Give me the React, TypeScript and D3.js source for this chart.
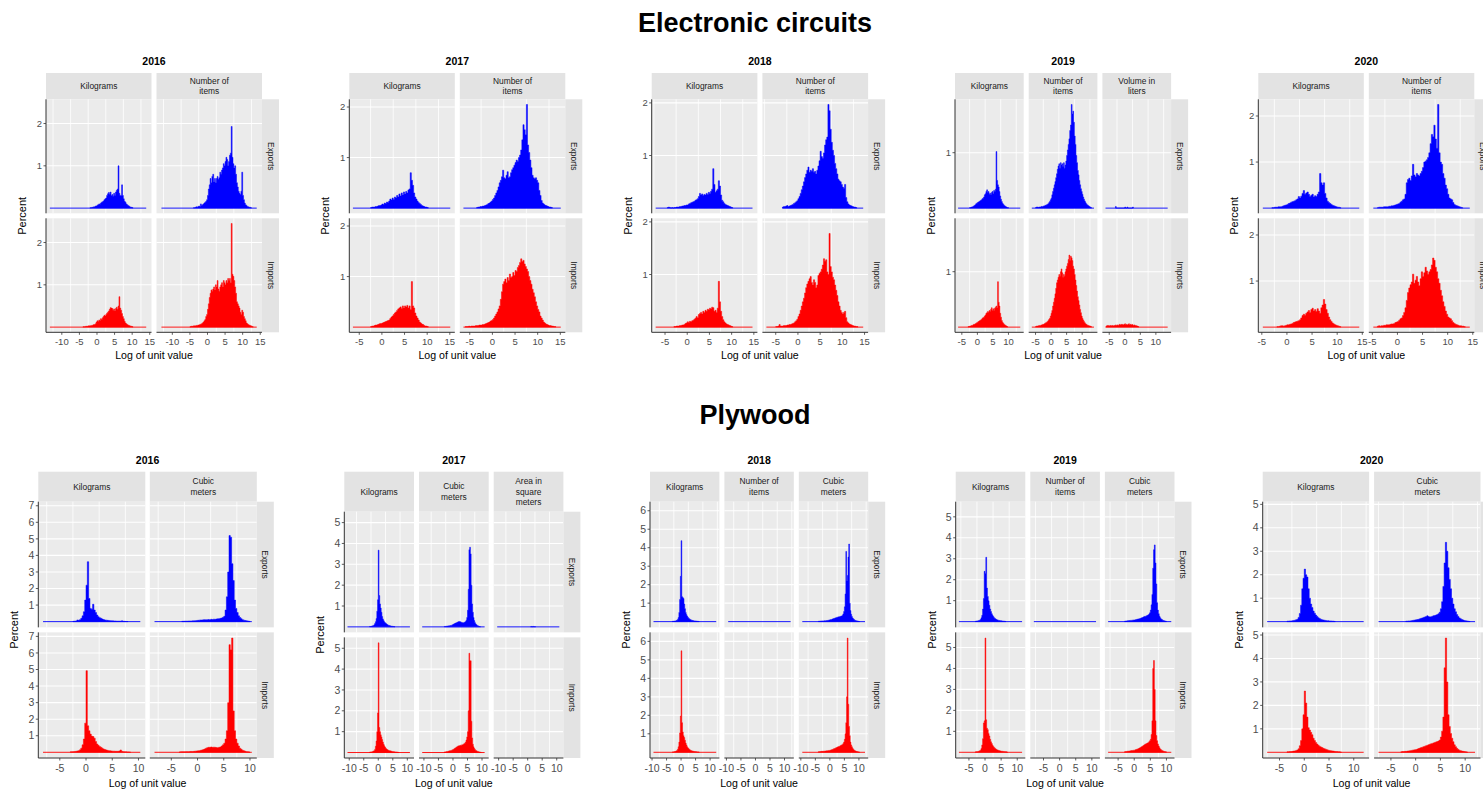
import React from 'react';
import * as d3 from 'd3';

// Histogram of log unit values: lo/hi = data range (drawn as the zero line),
// start = left edge of the first bin, h = percent per bin (bin width BIN).
type Hist = { lo: number; hi: number; start: number; h: number[] };

const BIN = 0.25;

// ---------- Electronic circuits ----------
const ec16ExpKg: Hist = { lo: -13.4, hi: 14, start: -2, h: [0.01,0.01,0.02,0.02,0.03,0.03,0.05,0.05, 0.07,0.08,0.1,0.09,0.12,0.14,0.15,0.17, 0.2,0.22,0.24,0.3,0.34,0.37,0.33,0.38, 0.3,0.32,0.28,0.35,0.3,0.38,0.42,0.45, 1.0,0.35,0.3,0.3,0.55,0.3,0.22,0.16, 0.14,0.1,0.08,0.06,0.05,0.03,0.02,0.02,0.01] };
const ec16ExpNum: Hist = { lo: -13.1, hi: 14, start: -4, h: [0.01,0.01,0.02,0.03,0.02,0.04,0.05,0.04, 0.1,0.06,0.08,0.1,0.12,0.14,0.16,0.2, 0.3,0.45,0.55,0.7,0.6,0.75,0.8,0.62, 0.7,0.6,0.7,0.75,0.68,0.72,0.85,0.8, 0.9,0.95,1.05,1.0,1.1,1.2,1.15,1.0, 1.1,1.25,1.3,1.93,1.2,1.05,0.95,1.0, 0.8,0.6,0.5,0.4,0.35,0.32,0.4,0.85, 0.3,0.2,0.12,0.08,0.06,0.04,0.03,0.02,0.02,0.01] };
const ec16ImpKg: Hist = { lo: -13.4, hi: 14, start: -4, h: [0.01,0.01,0.01,0.02,0.02,0.02,0.03,0.03, 0.03,0.04,0.04,0.05,0.06,0.06,0.08,0.12, 0.15,0.13,0.17,0.15,0.2,0.18,0.22,0.25, 0.28,0.26,0.3,0.33,0.35,0.38,0.42,0.46, 0.45,0.44,0.4,0.43,0.38,0.44,0.47,0.42, 0.5,0.72,0.45,0.4,0.32,0.25,0.2,0.14, 0.1,0.08,0.06,0.05,0.04,0.03,0.02,0.02,0.01] };
const ec16ImpNum: Hist = { lo: -13.1, hi: 14, start: -5, h: [0.01,0.02,0.02,0.02,0.03,0.03,0.03,0.04, 0.04,0.05,0.05,0.06,0.07,0.08,0.1,0.12, 0.15,0.18,0.25,0.3,0.42,0.55,0.7,0.8, 0.88,0.85,0.9,0.95,0.88,1.0,0.95,1.1, 0.9,0.85,0.95,1.0,1.05,0.95,1.1,1.05, 1.0,1.1,1.05,1.15,1.1,1.15,1.05,2.45, 1.25,1.2,1.1,0.95,0.8,0.6,0.55,0.5, 0.45,0.35,0.3,0.4,0.35,0.25,0.2,0.15, 0.1,0.08,0.06,0.05,0.04,0.03,0.02,0.01] };

const ec17ExpKg: Hist = { lo: -6.4, hi: 15.1, start: -2.5, h: [0.01,0.02,0.02,0.02,0.03,0.03,0.04,0.05, 0.05,0.06,0.08,0.07,0.1,0.09,0.12,0.11, 0.14,0.18,0.16,0.2,0.17,0.22,0.2,0.25, 0.22,0.28,0.24,0.3,0.26,0.32,0.28,0.33, 0.3,0.36,0.38,0.7,0.55,0.45,0.3,0.22, 0.18,0.14,0.11,0.09,0.07,0.05,0.04,0.03,0.02,0.02,0.01] };
const ec17ExpNum: Hist = { lo: -6.4, hi: 15.1, start: -3.5, h: [0.01,0.02,0.02,0.03,0.03,0.04,0.04,0.05, 0.06,0.07,0.09,0.1,0.12,0.14,0.17,0.2, 0.25,0.3,0.35,0.42,0.5,0.55,0.62,0.75, 0.6,0.58,0.65,0.72,0.6,0.62,0.7,0.76, 0.8,0.85,0.9,0.95,0.92,1.0,1.05,1.15, 1.35,1.65,1.55,1.45,2.05,1.25,1.1,0.95, 0.8,0.65,0.6,0.58,0.6,0.55,0.5,0.35, 0.25,0.15,0.1,0.08,0.06,0.05,0.04,0.03,0.02,0.02,0.01] };
const ec17ImpKg: Hist = { lo: -6.4, hi: 15.1, start: -2.5, h: [0.01,0.02,0.02,0.03,0.04,0.04,0.05,0.06, 0.07,0.07,0.08,0.09,0.1,0.11,0.12,0.13, 0.14,0.17,0.2,0.22,0.25,0.28,0.3,0.33, 0.36,0.38,0.4,0.37,0.42,0.38,0.42,0.4, 0.43,0.38,0.42,0.35,0.9,0.42,0.38,0.28, 0.22,0.18,0.14,0.1,0.08,0.06,0.05,0.03,0.02,0.02,0.01] };
const ec17ImpNum: Hist = { lo: -6.4, hi: 15.1, start: -6, h: [0.01,0.01,0.01,0.02,0.01,0.02,0.02,0.02, 0.02,0.03,0.03,0.03,0.04,0.04,0.04,0.05, 0.05,0.06,0.07,0.08,0.09,0.1,0.12,0.13, 0.15,0.18,0.22,0.26,0.3,0.36,0.42,0.55, 0.7,0.85,0.9,0.95,0.88,0.98,0.92,1.05, 0.98,1.0,1.08,1.02,1.12,1.1,1.18,1.22, 1.28,1.35,1.3,1.32,1.25,1.2,1.15,1.1, 1.0,0.92,0.85,0.75,0.68,0.6,0.5,0.42, 0.35,0.3,0.22,0.18,0.14,0.1,0.08,0.06, 0.05,0.04,0.03,0.03,0.02,0.02,0.01,0.01] };

const ec18ExpKg: Hist = { lo: -7.1, hi: 14.7, start: -4.5, h: [0.01,0.02,0.01,0,0.01,0,0.01,0.01, 0.02,0.02,0.02,0.03,0.03,0.04,0.04,0.05, 0.05,0.06,0.06,0.08,0.09,0.1,0.11,0.12, 0.13,0.15,0.16,0.18,0.22,0.28,0.25,0.27, 0.24,0.26,0.25,0.28,0.26,0.3,0.28,0.32, 0.36,0.75,0.45,0.3,0.33,0.36,0.52,0.42, 0.25,0.15,0.12,0.09,0.07,0.06,0.05,0.04,0.03,0.02,0.01] };
const ec18ExpNum: Hist = { lo: -3.5, hi: 14.7, start: -3.5, h: [0.02,0.03,0.03,0.04,0.05,0.03,0.04,0.05, 0.06,0.07,0.09,0.1,0.12,0.14,0.18,0.22, 0.28,0.35,0.42,0.5,0.58,0.65,0.72,0.78, 0.68,0.72,0.7,0.75,0.68,0.7,0.65,0.72, 0.8,0.9,1.08,0.98,0.95,1.05,1.2,1.3, 1.35,1.97,1.85,1.5,1.25,1.1,1.0,0.85, 0.75,0.65,0.55,0.52,0.5,0.45,0.4,0.38, 0.45,0.2,0.12,0.08,0.06,0.05,0.04,0.03,0.02,0.02,0.01] };
const ec18ImpKg: Hist = { lo: -7.1, hi: 14.7, start: -3, h: [0.01,0.01,0.02,0.02,0.02,0.03,0.03,0.04, 0.04,0.05,0.07,0.08,0.1,0.09,0.11,0.1, 0.12,0.13,0.15,0.17,0.2,0.18,0.24,0.26, 0.28,0.25,0.3,0.28,0.32,0.3,0.34,0.33, 0.36,0.35,0.38,0.37,0.3,0.32,0.28,0.36, 0.87,0.48,0.3,0.2,0.14,0.1,0.08,0.06, 0.05,0.04,0.03,0.02,0.01] };
const ec18ImpNum: Hist = { lo: -7.1, hi: 14.7, start: -5, h: [0.01,0.01,0.02,0.05,0.02,0.02,0.02,0.03, 0.03,0.03,0.04,0.04,0.05,0.05,0.06,0.07, 0.08,0.1,0.12,0.15,0.2,0.25,0.32,0.4, 0.48,0.55,0.65,0.75,0.82,0.87,0.92,0.96, 0.85,0.8,0.9,0.85,0.75,0.8,0.98,1.02, 1.05,1.1,1.18,1.3,1.25,1.28,1.05,1.0, 1.78,1.15,1.05,0.95,0.9,0.8,0.7,0.6, 0.48,0.4,0.32,0.28,0.25,0.28,0.3,0.18, 0.1,0.08,0.06,0.05,0.04,0.03,0.02,0.02,0.01,0.01] };

const ec19ExpKg: Hist = { lo: -6.2, hi: 13.8, start: -2.5, h: [0.01,0.01,0.02,0.02,0.03,0.04,0.05,0.06, 0.08,0.09,0.1,0.11,0.12,0.13,0.14,0.15, 0.17,0.18,0.2,0.24,0.26,0.3,0.33,0.28, 0.3,0.25,0.27,0.24,0.28,0.3,0.26,0.32, 0.3,0.34,1.02,0.5,0.42,0.38,0.3,0.22, 0.16,0.12,0.09,0.07,0.05,0.04,0.03,0.02,0.01,0.01] };
const ec19ExpNum: Hist = { lo: -6.2, hi: 13.8, start: -5, h: [0.01,0.02,0.02,0.01,0.02,0.02,0.02,0.03, 0.03,0.03,0.04,0.04,0.05,0.05,0.06,0.07, 0.08,0.1,0.12,0.15,0.18,0.24,0.3,0.36, 0.42,0.48,0.55,0.62,0.7,0.76,0.8,0.72, 0.82,0.78,0.8,0.75,0.82,0.72,0.78,0.85, 0.95,1.05,1.15,1.25,1.4,1.5,1.87,1.7, 1.75,1.55,1.3,1.15,0.95,0.82,0.68,0.6, 0.5,0.42,0.35,0.3,0.25,0.2,0.16,0.13, 0.1,0.08,0.06,0.05,0.04,0.03,0.02,0.01] };
const ec19ExpVol: Hist = { lo: -6.2, hi: 13.8, start: -3, h: [0.03,0,0,0,0,0,0,0,0,0,0,0,0.02,0,0,0.02,0,0,0,0,0,0,0.02] };
const ec19ImpKg: Hist = { lo: -6.2, hi: 13.8, start: -3, h: [0.01,0.01,0.02,0.02,0.03,0.03,0.04,0.05, 0.05,0.06,0.07,0.08,0.09,0.1,0.11,0.12, 0.13,0.14,0.16,0.17,0.18,0.2,0.22,0.25, 0.26,0.28,0.27,0.3,0.28,0.32,0.35,0.3, 0.33,0.3,0.34,0.36,0.38,0.35,0.82,0.45, 0.38,0.25,0.18,0.12,0.09,0.07,0.05,0.04,0.03,0.02,0.01] };
const ec19ImpNum: Hist = { lo: -6.2, hi: 13.8, start: -5, h: [0.01,0.02,0.02,0.02,0.03,0.03,0.03,0.04, 0.04,0.05,0.05,0.06,0.07,0.08,0.09,0.1, 0.12,0.14,0.16,0.2,0.25,0.3,0.38,0.45, 0.52,0.6,0.7,0.8,0.85,0.9,0.95,0.92, 1.0,1.05,0.98,0.9,0.95,0.92,1.0,1.05, 1.1,1.15,1.22,1.3,1.2,1.28,1.25,1.2, 1.1,1.05,0.95,0.85,0.75,0.65,0.55,0.48, 0.4,0.32,0.26,0.2,0.16,0.13,0.1,0.08, 0.06,0.05,0.04,0.03,0.03,0.02,0.02,0.01] };
const ec19ImpVol: Hist = { lo: -6.2, hi: 13.8, start: -6, h: [0.02,0.03,0.02,0.03,0.02,0.03,0.02,0.03, 0.03,0.02,0.03,0.03,0.04,0.03,0.04,0.03, 0.04,0.05,0.04,0.05,0.04,0.05,0.04,0.05, 0.06,0.04,0.05,0.04,0.05,0.06,0.04,0.05, 0.04,0.05,0.04,0.03,0.04,0.03,0.03,0.02,0.02,0.01] };

const ec20ExpKg: Hist = { lo: -4.8, hi: 14.4, start: -3, h: [0.01,0.01,0.02,0.02,0.02,0.03,0.03,0.03, 0.04,0.05,0.06,0.07,0.08,0.1,0.11,0.13, 0.14,0.15,0.16,0.18,0.2,0.25,0.22,0.26, 0.32,0.38,0.3,0.33,0.35,0.3,0.25,0.28, 0.3,0.24,0.27,0.25,0.3,0.35,0.75,0.55, 0.5,0.55,0.32,0.22,0.15,0.12,0.1,0.08, 0.06,0.05,0.04,0.03,0.02,0.02,0.01] };
const ec20ExpNum: Hist = { lo: -4.8, hi: 14.4, start: -4, h: [0.01,0.02,0.02,0.02,0.02,0.03,0.03,0.03, 0.03,0.04,0.04,0.05,0.05,0.06,0.07,0.08, 0.09,0.1,0.13,0.15,0.18,0.2,0.3,0.55, 0.62,0.65,0.6,0.7,0.95,0.72,0.68,0.75, 0.72,0.7,0.75,0.8,0.88,1.0,1.02,1.05, 1.1,1.2,1.4,1.6,1.55,1.8,1.5,1.3, 2.25,1.2,1.0,0.95,0.75,0.65,0.5,0.42, 0.3,0.22,0.2,0.18,0.12,0.08,0.06,0.05, 0.04,0.03,0.02,0.01] };
const ec20ImpKg: Hist = { lo: -4.8, hi: 14.4, start: -2, h: [0.01,0.01,0.02,0.03,0.03,0.02,0.03,0.04, 0.05,0.05,0.06,0.07,0.08,0.1,0.11,0.12, 0.13,0.14,0.16,0.2,0.25,0.28,0.26,0.3, 0.33,0.36,0.32,0.38,0.41,0.35,0.38,0.34, 0.4,0.35,0.3,0.42,0.48,0.6,0.5,0.38, 0.3,0.22,0.16,0.12,0.09,0.07,0.05,0.04,0.03,0.02,0.01] };
const ec20ImpNum: Hist = { lo: -4.8, hi: 14.4, start: -4, h: [0.02,0.03,0.02,0.03,0.03,0.04,0.04,0.05, 0.05,0.05,0.06,0.07,0.07,0.08,0.1,0.11, 0.12,0.15,0.18,0.2,0.25,0.32,0.42,0.58, 0.75,0.85,0.92,0.98,1.15,0.95,1.02,1.1, 0.98,0.9,1.05,1.2,1.1,1.18,1.3,1.22, 1.15,1.2,1.25,1.35,1.5,1.45,1.3,1.2, 1.05,0.95,0.8,0.68,0.55,0.45,0.35,0.28, 0.22,0.2,0.18,0.14,0.1,0.08,0.06,0.05, 0.04,0.03,0.03,0.02,0.02,0.01] };

// ---------- Plywood ----------
const p16ExpKg: Hist = { lo: -8.2, hi: 10.35, start: -2.5, h: [0.02,0.03,0.04,0.1,0.08,0.12,0.2,0.35, 0.6,1.3,2.2,3.62,1.4,0.8,0.75,1.05, 0.7,0.55,0.4,0.3,0.24,0.2,0.16,0.13, 0.1,0.09,0.08,0.07,0.06,0.05,0.05,0.04, 0.04,0.03,0.03,0.03,0.03,0.05,0.02,0.02,0.01,0.01] };
const p16ExpCub: Hist = { lo: -8.2, hi: 10.35, start: -3, h: [0.02,0.02,0.03,0.03,0.03,0.04,0.04,0.04, 0.05,0.05,0.06,0.07,0.08,0.09,0.1,0.1, 0.11,0.12,0.11,0.12,0.13,0.12,0.14,0.13, 0.15,0.14,0.16,0.17,0.18,0.2,0.22,0.26, 0.32,0.7,1.5,3.0,5.2,5.1,3.5,2.48, 1.3,0.8,0.55,0.35,0.25,0.18,0.12,0.09, 0.07,0.05,0.04,0.02] };
const p16ImpKg: Hist = { lo: -8.2, hi: 10.35, start: -3, h: [0.03,0.03,0.04,0.05,0.06,0.08,0.1,0.15, 0.25,0.45,0.8,1.76,4.93,1.6,1.3,1.1, 0.98,0.95,0.85,0.65,0.5,0.42,0.35,0.3, 0.25,0.2,0.17,0.14,0.12,0.1,0.09,0.08, 0.07,0.07,0.06,0.06,0.06,0.08,0.14,0.06, 0.04,0.03,0.03,0.02,0.02,0.01] };
const p16ImpCub: Hist = { lo: -8.2, hi: 10.35, start: -3.5, h: [0.02,0.03,0.03,0.03,0.03,0.04,0.04,0.04, 0.05,0.05,0.05,0.06,0.07,0.08,0.09,0.1, 0.12,0.14,0.17,0.2,0.24,0.28,0.3,0.3, 0.32,0.3,0.31,0.3,0.29,0.28,0.3,0.32, 0.38,0.45,0.55,0.8,1.3,3.0,6.5,6.2, 6.9,2.5,1.3,0.8,0.55,0.38,0.25,0.18, 0.12,0.09,0.06,0.04,0.03,0.02] };

const p17ExpKg: Hist = { lo: -10.6, hi: 10.9, start: -3, h: [0.02,0.02,0.03,0.04,0.05,0.06,0.1,0.16, 0.25,0.4,0.75,1.3,3.68,1.5,1.1,0.9, 0.7,0.5,0.38,0.3,0.24,0.2,0.17,0.14, 0.11,0.09,0.07,0.06,0.05,0.04,0.03,0.03,0.02,0.02,0.01] };
const p17ExpCub: Hist = { lo: -10.6, hi: 10.9, start: -3, h: [0.02,0.02,0.03,0.03,0.04,0.04,0.05,0.05, 0.06,0.07,0.08,0.1,0.12,0.14,0.16,0.18, 0.19,0.21,0.23,0.24,0.26,0.25,0.24,0.22, 0.21,0.2,0.2,0.21,0.23,0.26,0.32,0.45, 0.8,1.8,3.7,3.82,3.5,2.0,1.1,0.7, 0.45,0.3,0.2,0.14,0.1,0.07,0.05,0.03,0.02,0.01] };
const p17ExpArea: Hist = { lo: -10.5, hi: 10.9, start: 1, h: [0.01,0.02,0.01,0.02,0.02,0.01,0.01] };
const p17ImpKg: Hist = { lo: -10.6, hi: 10.9, start: -3, h: [0.02,0.03,0.03,0.04,0.05,0.07,0.09,0.15, 0.3,0.55,1.0,1.9,5.26,1.2,1.0,0.85, 0.75,0.62,0.5,0.4,0.32,0.26,0.2,0.17, 0.14,0.12,0.1,0.09,0.08,0.07,0.06,0.05, 0.05,0.04,0.04,0.03,0.03,0.02,0.02,0.01] };
const p17ImpCub: Hist = { lo: -10.6, hi: 10.9, start: -3, h: [0.03,0.03,0.04,0.05,0.05,0.06,0.07,0.08, 0.09,0.1,0.11,0.13,0.15,0.17,0.2,0.22, 0.25,0.27,0.3,0.31,0.33,0.32,0.35,0.34, 0.37,0.36,0.4,0.42,0.45,0.5,0.6,0.75, 1.0,2.0,4.76,4.4,4.4,1.5,0.7,0.4, 0.28,0.2,0.14,0.1,0.08,0.06,0.05,0.04,0.03,0.02,0.01] };

const p18ExpKg: Hist = { lo: -9.5, hi: 12.1, start: -3, h: [0.02,0.02,0.03,0.03,0.04,0.06,0.08,0.12, 0.22,0.5,1.2,2.45,4.38,1.35,1.3,1.25, 0.95,0.7,0.5,0.38,0.3,0.24,0.19,0.15, 0.12,0.1,0.08,0.07,0.06,0.05,0.04,0.04, 0.03,0.03,0.02,0.02,0.01] };
const p18ExpNum: Hist = { lo: -9.4, hi: 12.1, start: 0, h: [] };
const p18ExpCub: Hist = { lo: -9.5, hi: 12.1, start: -4, h: [0.02,0.02,0.03,0.03,0.03,0.04,0.04,0.04, 0.05,0.05,0.05,0.06,0.06,0.07,0.08,0.09, 0.1,0.11,0.12,0.14,0.15,0.17,0.18,0.2, 0.21,0.23,0.24,0.25,0.26,0.27,0.28,0.3, 0.3,0.35,0.42,0.55,0.8,1.5,3.8,2.2, 2.5,3.5,4.2,1.0,0.6,0.4,0.28,0.2, 0.15,0.11,0.08,0.06,0.05,0.04,0.03,0.02,0.01] };
const p18ImpKg: Hist = { lo: -9.5, hi: 12.1, start: -3, h: [0.02,0.02,0.03,0.04,0.05,0.07,0.1,0.16, 0.3,0.55,1.05,1.96,5.49,1.6,1.1,0.9, 0.8,0.65,0.5,0.4,0.3,0.24,0.2,0.16, 0.13,0.1,0.09,0.07,0.06,0.05,0.04,0.04, 0.03,0.03,0.02,0.02,0.01] };
const p18ImpCub: Hist = { lo: -9.5, hi: 12.1, start: -4, h: [0.03,0.03,0.04,0.04,0.05,0.05,0.05,0.06, 0.06,0.07,0.07,0.08,0.08,0.09,0.1,0.1, 0.11,0.12,0.14,0.15,0.17,0.19,0.2,0.22, 0.24,0.26,0.28,0.3,0.31,0.33,0.35,0.38, 0.4,0.42,0.48,0.55,0.7,1.0,1.6,3.0, 6.18,2.6,1.4,0.9,0.55,0.4,0.3,0.22, 0.16,0.12,0.09,0.07,0.05,0.04,0.03,0.02,0.01] };

const p19ExpKg: Hist = { lo: -8.1, hi: 11.5, start: -3, h: [0.02,0.03,0.03,0.04,0.05,0.07,0.1,0.18, 0.3,0.6,1.1,2.4,2.3,3.07,1.6,1.2, 1.0,0.78,0.6,0.48,0.38,0.3,0.24,0.19, 0.15,0.12,0.1,0.08,0.07,0.06,0.05,0.04, 0.04,0.03,0.03,0.02,0.02,0.01] };
const p19ExpNum: Hist = { lo: -8.0, hi: 11.3, start: 0, h: [] };
const p19ExpCub: Hist = { lo: -8.1, hi: 11.5, start: -3, h: [0.02,0.03,0.03,0.04,0.04,0.05,0.05,0.06, 0.06,0.07,0.07,0.08,0.08,0.09,0.1,0.11, 0.12,0.13,0.14,0.15,0.17,0.18,0.2,0.22, 0.24,0.25,0.26,0.28,0.3,0.32,0.36,0.42, 0.55,0.8,1.3,2.55,3.43,3.66,2.8,1.8, 0.9,0.55,0.38,0.26,0.18,0.13,0.1,0.07, 0.05,0.04,0.03,0.02] };
const p19ImpKg: Hist = { lo: -8.1, hi: 11.5, start: -3, h: [0.02,0.03,0.03,0.04,0.05,0.07,0.1,0.18, 0.35,0.65,1.4,1.5,5.45,1.55,1.15,1.08, 0.9,0.78,0.62,0.5,0.42,0.34,0.28,0.23, 0.19,0.16,0.13,0.11,0.1,0.08,0.07,0.06, 0.05,0.05,0.04,0.04,0.03,0.03,0.02,0.01] };
const p19ImpCub: Hist = { lo: -8.1, hi: 11.5, start: -3, h: [0.03,0.04,0.04,0.05,0.05,0.06,0.06,0.07, 0.08,0.08,0.09,0.1,0.1,0.12,0.13,0.15, 0.16,0.18,0.2,0.22,0.25,0.27,0.3,0.32, 0.35,0.38,0.4,0.42,0.44,0.46,0.5,0.55, 0.62,0.85,1.5,4.0,4.38,3.0,1.5,0.8, 0.55,0.4,0.3,0.22,0.16,0.12,0.09,0.07, 0.05,0.04,0.03,0.02] };

const p20ExpKg: Hist = { lo: -7.5, hi: 12, start: -3.5, h: [0.02,0.02,0.03,0.03,0.04,0.05,0.06,0.08, 0.1,0.18,0.35,0.7,1.4,1.85,2.24,2.0, 1.9,1.4,1.0,0.75,0.6,0.45,0.36,0.28, 0.22,0.17,0.13,0.1,0.08,0.07,0.06,0.05, 0.04,0.04,0.03,0.03,0.02,0.02,0.01] };
const p20ExpCub: Hist = { lo: -7.5, hi: 12, start: -2, h: [0.02,0.02,0.03,0.03,0.04,0.05,0.06,0.07, 0.08,0.09,0.1,0.12,0.14,0.16,0.18,0.2, 0.22,0.25,0.22,0.2,0.21,0.23,0.25,0.26, 0.28,0.3,0.34,0.4,0.55,0.85,1.5,2.5, 3.38,3.0,2.3,1.8,1.4,1.0,0.75,0.55, 0.42,0.3,0.22,0.16,0.12,0.09,0.07,0.05, 0.04,0.03,0.02,0.01] };
const p20ImpKg: Hist = { lo: -7.5, hi: 12, start: -3.5, h: [0.02,0.02,0.03,0.03,0.04,0.05,0.06,0.08, 0.1,0.15,0.28,0.5,1.0,1.6,2.61,2.1, 1.5,1.05,0.95,0.85,0.75,0.6,0.5,0.42, 0.35,0.3,0.26,0.23,0.2,0.17,0.15,0.13, 0.11,0.09,0.08,0.07,0.06,0.05,0.04,0.03, 0.03,0.02,0.02,0.01] };
const p20ImpCub: Hist = { lo: -7.5, hi: 12, start: -3, h: [0.02,0.03,0.03,0.04,0.04,0.05,0.06,0.07, 0.08,0.09,0.1,0.11,0.12,0.14,0.16,0.18, 0.2,0.22,0.24,0.26,0.28,0.3,0.32,0.34, 0.36,0.38,0.4,0.42,0.44,0.46,0.48,0.52, 0.65,0.9,1.5,3.6,4.87,3.0,1.6,1.1, 0.8,0.6,0.45,0.32,0.24,0.17,0.12,0.09, 0.07,0.05,0.04,0.03,0.02,0.01] };

// Facet labels
const KG = ['Kilograms'];
const NUM = ['Number of', 'items'];
const VOL = ['Volume in', 'liters'];
const CUB = ['Cubic', 'meters'];
const AREA = ['Area in', 'square', 'meters'];
const FLOWS = ['Exports', 'Imports'];

type Chart = {
  year: string;
  units: string[][];
  exp: (Hist | null)[];
  imp: (Hist | null)[];
  xDomain: [number, number];
};

type Layout = {
  left: number; colW: number; gap: number;
  stripTop: number; stripBottom: number; bottom: number; rowGap: number;
  tickSize: number; tickBase: number; titleBase: number;
};

const ecCharts: Chart[] = [
  { year: '2016', units: [KG, NUM], exp: [ec16ExpKg, ec16ExpNum], imp: [ec16ImpKg, ec16ImpNum], xDomain: [-14.5, 15.5] },
  { year: '2017', units: [KG, NUM], exp: [ec17ExpKg, ec17ExpNum], imp: [ec17ImpKg, ec17ImpNum], xDomain: [-7.2, 16.1] },
  { year: '2018', units: [KG, NUM], exp: [ec18ExpKg, ec18ExpNum], imp: [ec18ImpKg, ec18ImpNum], xDomain: [-8.0, 15.8] },
  { year: '2019', units: [KG, NUM, VOL], exp: [ec19ExpKg, ec19ExpNum, ec19ExpVol], imp: [ec19ImpKg, ec19ImpNum, ec19ImpVol], xDomain: [-7.2, 14.9] },
  { year: '2020', units: [KG, NUM], exp: [ec20ExpKg, ec20ExpNum], imp: [ec20ImpKg, ec20ImpNum], xDomain: [-5.7, 15.3] },
];

const plyCharts: Chart[] = [
  { year: '2016', units: [KG, CUB], exp: [p16ExpKg, p16ExpCub], imp: [p16ImpKg, p16ImpCub], xDomain: [-9.1, 11.3] },
  { year: '2017', units: [KG, CUB, AREA], exp: [p17ExpKg, p17ExpCub, p17ExpArea], imp: [p17ImpKg, p17ImpCub, null], xDomain: [-11.7, 12.3] },
  { year: '2018', units: [KG, NUM, CUB], exp: [p18ExpKg, p18ExpNum, p18ExpCub], imp: [p18ImpKg, null, p18ImpCub], xDomain: [-10.7, 13.2] },
  { year: '2019', units: [KG, NUM, CUB], exp: [p19ExpKg, p19ExpNum, p19ExpCub], imp: [p19ImpKg, null, p19ImpCub], xDomain: [-9.1, 12.5] },
  { year: '2020', units: [KG, CUB], exp: [p20ExpKg, p20ExpCub], imp: [p20ImpKg, p20ImpCub], xDomain: [-8.4, 13.1] },
];

const ecBase = { stripTop: 73, stripBottom: 99.3, bottom: 332.3, rowGap: 5, tickSize: 9.5, tickBase: 345, titleBase: 359 };
const ecLayouts: Layout[] = [
  { ...ecBase, left: 46, colW: 105.5, gap: 5 },
  { ...ecBase, left: 349.3, colW: 105.5, gap: 5 },
  { ...ecBase, left: 651.7, colW: 105.7, gap: 5 },
  { ...ecBase, left: 955, colW: 68.7, gap: 5 },
  { ...ecBase, left: 1258.3, colW: 105.5, gap: 5 },
];

const plyBase = { stripTop: 471.7, stripBottom: 501.7, bottom: 758, rowGap: 5, tickSize: 10.5, tickBase: 772, titleBase: 787 };
const plyLayouts: Layout[] = [
  { ...plyBase, left: 38.3, colW: 107, gap: 4.5 },
  { ...plyBase, stripBottom: 511.7, left: 344.3, colW: 69.7, gap: 5 },
  { ...plyBase, left: 650, colW: 69.4, gap: 5 },
  { ...plyBase, left: 955.7, colW: 69.6, gap: 5 },
  { ...plyBase, left: 1262.7, colW: 106.4, gap: 5 },
];

const FONT = '"Liberation Sans", Arial, Helvetica, sans-serif';
const COLORS = ['#0000FF', '#FF0000'];
const PANEL_BG = '#EBEBEB';
const STRIP_BG = '#E3E3E3';
const AXIS = '#333333';
const TICK_TEXT = '#4D4D4D';
const STRIP_W = 17;

function HistMark({ hist, x, y, color }: { hist: Hist; x: d3.ScaleLinear<number, number>; y: d3.ScaleLinear<number, number>; color: string }) {
  const pts: [number, number][] = [];
  hist.h.forEach((v, i) => {
    const a = hist.start + i * BIN;
    pts.push([a, v], [a + BIN, v]);
  });
  const area = d3.area<[number, number]>().x(d => x(d[0])).y0(y(0)).y1(d => y(d[1]));
  return (
    <g>
      <line x1={x(hist.lo)} x2={x(hist.hi)} y1={y(0)} y2={y(0)} stroke={color} strokeWidth={0.9} />
      {pts.length > 0 && <path d={area(pts) ?? ''} fill={color} stroke={color} strokeWidth={0.5} strokeLinejoin="miter" />}
    </g>
  );
}

function FacetGrid({ chart, lay }: { chart: Chart; lay: Layout }) {
  const n = chart.units.length;
  const colLeft = (j: number) => lay.left + j * (lay.colW + lay.gap);
  const right = colLeft(n - 1) + lay.colW;
  const cx = (lay.left + right) / 2;
  const rowH = (lay.bottom - lay.stripBottom - lay.rowGap) / 2;
  const rowTop = (i: number) => lay.stripBottom + i * (rowH + lay.rowGap);

  const all = [...chart.exp, ...chart.imp].filter((d): d is Hist => d !== null);
  const peak = d3.max(all, d => d3.max(d.h) ?? 0) ?? 1;
  const yDom: [number, number] = [-0.05 * peak, 1.05 * peak];
  const yTicks = d3.range(1, Math.floor(yDom[1]) + 1);

  const [x0, x1] = chart.xDomain;
  const xTicks = d3.range(Math.ceil(x0 / 5) * 5, x1 + 1e-9, 5);
  const xMinor = [xTicks[0] - 2.5, ...xTicks.map(t => t + 2.5)].filter(v => v > x0 && v < x1);

  const xScales = chart.units.map((_, j) => d3.scaleLinear().domain(chart.xDomain).range([colLeft(j), colLeft(j) + lay.colW]));
  const yScales = [0, 1].map(i => d3.scaleLinear().domain(yDom).range([rowTop(i) + rowH, rowTop(i)]));
  const stripMid = (lay.stripTop + lay.stripBottom) / 2;
  const lh = 10.4;

  return (
    <g fontFamily={FONT}>
      <text x={cx} y={lay.stripTop - 8} textAnchor="middle" fontSize={10.5} fontWeight="bold" fill="#000">{chart.year}</text>

      {/* column strips */}
      {chart.units.map((lines, j) => (
        <g key={`s${j}`}>
          <rect x={colLeft(j)} y={lay.stripTop} width={lay.colW} height={lay.stripBottom - lay.stripTop} fill={STRIP_BG} />
          {lines.map((t, k) => (
            <text key={k} x={colLeft(j) + lay.colW / 2} y={stripMid + (k - (lines.length - 1) / 2) * lh} dy="0.35em"
              textAnchor="middle" fontSize={8.4} fill="#1A1A1A">{t}</text>
          ))}
        </g>
      ))}

      {/* panels */}
      {[chart.exp, chart.imp].map((row, i) => {
        const y = yScales[i];
        const top = rowTop(i);
        return (
          <g key={`r${i}`}>
            {row.map((hist, j) => {
              const x = xScales[j];
              return (
                <g key={`p${j}`}>
                  <rect x={colLeft(j)} y={top} width={lay.colW} height={rowH} fill={PANEL_BG} />
                  {xMinor.map(v => (
                    <line key={`v${v}`} x1={x(v)} x2={x(v)} y1={top} y2={top + rowH} stroke="#fff" strokeWidth={0.8} />
                  ))}
                  {yTicks.map(v => (
                    <line key={`h${v}`} x1={colLeft(j)} x2={colLeft(j) + lay.colW} y1={y(v)} y2={y(v)} stroke="#fff" strokeWidth={1.1} />
                  ))}
                  {hist && <HistMark hist={hist} x={x} y={y} color={COLORS[i]} />}
                </g>
              );
            })}
            {/* row strip */}
            <rect x={right} y={top} width={STRIP_W} height={rowH} fill={STRIP_BG} />
            <text transform={`translate(${right + STRIP_W / 2},${top + rowH / 2}) rotate(90)`} dy="0.35em"
              textAnchor="middle" fontSize={8.4} fill="#1A1A1A">{FLOWS[i]}</text>
            {/* y axis */}
            <line x1={lay.left} x2={lay.left} y1={top} y2={top + rowH} stroke={AXIS} strokeWidth={1} />
            {yTicks.map(v => (
              <g key={`yt${v}`}>
                <line x1={lay.left - 2.5} x2={lay.left} y1={y(v)} y2={y(v)} stroke={AXIS} strokeWidth={0.8} />
                <text x={lay.left - 4} y={y(v)} dy="0.35em" textAnchor="end" fontSize={lay.tickSize} fill={TICK_TEXT}>{v}</text>
              </g>
            ))}
          </g>
        );
      })}

      {/* x axes */}
      {xScales.map((x, j) => (
        <g key={`xa${j}`}>
          <line x1={colLeft(j)} x2={colLeft(j) + lay.colW} y1={lay.bottom} y2={lay.bottom} stroke={AXIS} strokeWidth={1} />
          {xTicks.map(t => (
            <g key={t}>
              <line x1={x(t)} x2={x(t)} y1={lay.bottom} y2={lay.bottom + 2.5} stroke={AXIS} strokeWidth={0.8} />
              <text x={x(t)} y={lay.tickBase} textAnchor="middle" fontSize={lay.tickSize} fill={TICK_TEXT}>{t}</text>
            </g>
          ))}
        </g>
      ))}

      <text x={cx} y={lay.titleBase} textAnchor="middle" fontSize={10.6} fill="#000">Log of unit value</text>
      <text transform={`translate(${lay.left - 24},${(lay.stripBottom + lay.bottom) / 2}) rotate(-90)`} dy="0.35em"
        textAnchor="middle" fontSize={11} fill="#000">Percent</text>
    </g>
  );
}

export default function App() {
  React.useEffect(() => {
    document.body.style.margin = '0';
    document.body.style.overflow = 'hidden';
  }, []);
  return (
    <div style={{ position: 'absolute', left: 0, top: 0 }}>
      <svg width={1483} height={795} style={{ display: 'block', background: '#fff' }}>
        <text x={755} y={32} textAnchor="middle" fontFamily={FONT} fontSize={27} fontWeight="bold" fill="#000">Electronic circuits</text>
        <text x={755} y={424} textAnchor="middle" fontFamily={FONT} fontSize={27} fontWeight="bold" fill="#000">Plywood</text>
        {ecCharts.map((c, k) => <FacetGrid key={`ec${k}`} chart={c} lay={ecLayouts[k]} />)}
        {plyCharts.map((c, k) => <FacetGrid key={`ply${k}`} chart={c} lay={plyLayouts[k]} />)}
      </svg>
    </div>
  );
}
